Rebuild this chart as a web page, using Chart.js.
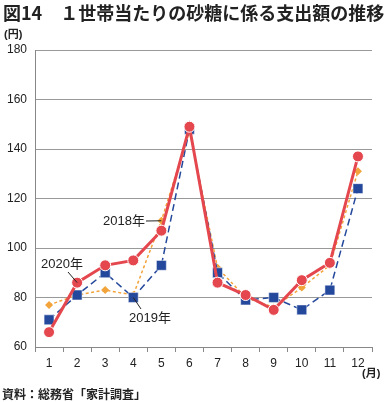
<!DOCTYPE html>
<html lang="ja">
<head>
<meta charset="UTF-8">
<title>1世帯当たりの砂糖に係る支出額の推移</title>
<script src="https://cdn.jsdelivr.net/npm/chart.js"></script>
<style>
    body { margin: 0; background: #fff; }
    #wrap { position: relative; width: 388px; height: 402px; font-family: "Liberation Sans", "Noto Sans CJK JP", sans-serif; color: #222; }
    #chart { position: absolute; left: 0; top: 0; }
    .txt { position: absolute; white-space: nowrap; font-weight: bold; }
    #title { left: 3px; top: 1px; font-size: 18px; line-height: 22px; font-family: "Noto Sans CJK JP", sans-serif; }
    #yunit { left: 4px; top: 27px; font-size: 11px; line-height: 14px; }
    #xunit { left: 362px; top: 366px; font-size: 11px; line-height: 14px; }
    #source { left: 2px; top: 386px; font-size: 12px; line-height: 15px; font-family: "Noto Sans CJK JP", sans-serif; }
</style>
</head>
<body>
<div id="wrap">
    <canvas id="chart" width="388" height="402"></canvas>
    <div class="txt" id="title">図14　１世帯当たりの砂糖に係る支出額の推移</div>
    <div class="txt" id="yunit">(円)</div>
    <div class="txt" id="xunit">(月)</div>
    <div class="txt" id="source">資料：総務省「家計調査」</div>
</div>

<script>
// data
var months = ['1', '2', '3', '4', '5', '6', '7', '8', '9', '10', '11', '12'];
var y2020 = [66, 86, 93, 95, 107, 149, 86, 81, 75, 87, 94, 137];
var y2019 = [71, 81, 90, 80, 93, 148, 90, 79, 80, 75, 83, 124];
var y2018 = [77, 81, 83, 81, 111, 147, 92, 80, 76, 84, 93, 131];
var yTicks = [60, 80, 100, 120, 140, 160, 180];

// series labels with leader lines: [dataset index, point index, text x, text y, line from x, line from y]
var callouts = [
    [2, 4, 103, 221, 146, 221, '2018年'],
    [0, 1, 41, 264, 68, 272, '2020年'],
    [1, 3, 129, 318, 141, 309, '2019年']
];

var calloutPlugin = {
    id: 'callouts',
    afterDatasetsDraw: function (chart) {
        var ctx = chart.ctx;
        ctx.save();
        ctx.font = '13px "Liberation Sans", "Noto Sans CJK JP", sans-serif';
        ctx.fillStyle = '#222';
        ctx.strokeStyle = '#222';
        ctx.lineWidth = 1;
        ctx.textBaseline = 'middle';
        callouts.forEach(function (c) {
            var pt = chart.getDatasetMeta(c[0]).data[c[1]];
            ctx.beginPath();
            ctx.moveTo(c[4], c[5]);
            ctx.lineTo(pt.x, pt.y);
            ctx.stroke();
            ctx.fillText(c[6], c[2], c[3]);
        });
        ctx.restore();
    }
};

var ctx = document.getElementById('chart').getContext('2d');
new Chart(ctx, {
    type: 'line',
    data: {
        labels: months,
        datasets: [
            {
                label: '2020年',
                data: y2020,
                borderColor: '#e5474f',
                backgroundColor: '#e5474f',
                borderWidth: 3,
                pointStyle: 'circle',
                pointRadius: 5.5,
                pointBorderColor: '#fff',
                pointBorderWidth: 1
            },
            {
                label: '2019年',
                data: y2019,
                borderColor: '#24489b',
                backgroundColor: '#24489b',
                borderWidth: 1.5,
                borderDash: [7, 4],
                pointStyle: 'rect',
                pointRadius: 7,
                pointBorderColor: '#fff',
                pointBorderWidth: 0.5
            },
            {
                label: '2018年',
                data: y2018,
                borderColor: '#f2a33a',
                backgroundColor: '#f2a33a',
                borderWidth: 1.5,
                borderDash: [3, 2.5],
                pointStyle: 'rectRot',
                pointRadius: 4,
                pointBorderWidth: 0
            }
        ]
    },
    options: {
        responsive: false,
        animation: false,
        layout: { padding: { left: 0, top: 50, right: 16, bottom: 0 } },
        plugins: {
            legend: { display: false },
            tooltip: { enabled: false }
        },
        scales: {
            x: {
                offset: true,
                grid: { offset: true, drawOnChartArea: false, tickLength: 5, color: '#888' },
                border: { color: '#888' },
                ticks: { color: '#222', font: { size: 12, family: '"Liberation Sans", sans-serif' }, padding: 4, maxRotation: 0 },
                afterFit: function (s) { s.height = 55; }
            },
            y: {
                min: 60,
                max: 180,
                afterBuildTicks: function (s) { s.ticks = yTicks.map(function (v) { return { value: v }; }); },
                grid: { color: '#999', drawTicks: false },
                border: { color: '#888' },
                ticks: { color: '#222', font: { size: 12, family: '"Liberation Sans", sans-serif' }, padding: 8 },
                afterFit: function (s) { s.width = 35; }
            }
        }
    },
    plugins: [calloutPlugin]
});
</script>
</body>
</html>
